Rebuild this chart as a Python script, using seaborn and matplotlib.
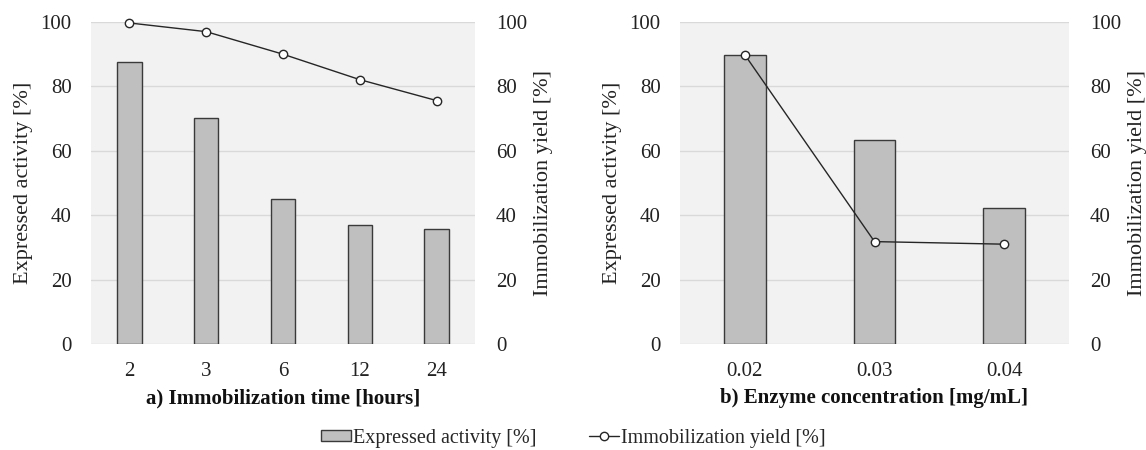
import matplotlib
matplotlib.use("Agg")
import matplotlib.pyplot as plt
import seaborn as sns
from matplotlib.patches import Patch
from matplotlib.lines import Line2D

# ---- data ----
time_cats = ["2", "3", "6", "12", "24"]
time_activity = [87.7, 70.1, 45.0, 37.1, 35.7]
time_yield = [99.7, 97.0, 90.0, 82.1, 75.6]

conc_cats = ["0.02", "0.03", "0.04"]
conc_activity = [89.6, 63.2, 42.1]
conc_yield = [89.8, 31.8, 31.0]

xlabels = ["a) Immobilization time [hours]", "b) Enzyme concentration [mg/mL]"]
left_label = "Expressed activity [%]"
right_label = "Immobilization yield [%]"
yticks = [0, 20, 40, 60, 80, 100]

sns.set_theme(style="white")
plt.rcParams["font.family"] = ["Liberation Serif", "DejaVu Serif"]

BAR = "#bfbfbf"
EDGE = "#3a3a3a"
LINE = "#262626"
BG = "#f2f2f2"
GRID = "#d9d9d9"
TXT = "#222222"
FS = 15
LFS = 16

W, H = 1146, 450
fig = plt.figure(figsize=(W / 100, H / 100), dpi=100)
positions = [[91 / W, 1 - 344 / H, 384 / W, 322 / H],
             [680 / W, 1 - 344 / H, 389 / W, 322 / H]]

panels = [(time_cats, time_activity, time_yield), (conc_cats, conc_activity, conc_yield)]

for i, (cats, act, yld) in enumerate(panels):
    ax = fig.add_axes(positions[i])
    ax.set_facecolor(BG)
    sns.barplot(x=cats, y=act, ax=ax, color=BAR, width=0.32,
                edgecolor=EDGE, linewidth=1.0, saturation=1)
    ax.set_ylim(0, 100)
    ax.set_xlim(-0.5, len(cats) - 0.5)
    ax.set_yticks(yticks)
    ax.yaxis.grid(True, color=GRID, linewidth=1.0)
    ax.set_axisbelow(True)
    for s in ax.spines.values():
        s.set_visible(False)
    ax.tick_params(axis="both", length=0, labelsize=FS, colors=TXT)
    ax.tick_params(axis="y", pad=14)
    ax.tick_params(axis="x", pad=13)
    ax.set_ylabel(left_label, fontsize=LFS, color=TXT, labelpad=5)
    ax.set_xlabel(xlabels[i], fontsize=FS, fontweight="bold", color="#111111", labelpad=5)

    ax2 = ax.twinx()
    sns.pointplot(x=cats, y=yld, ax=ax2, color=LINE, markers="o", linestyles="-",
                  linewidth=1.0, markersize=6, markerfacecolor="white",
                  markeredgecolor=LINE, markeredgewidth=1.0)
    for ln in ax2.lines:
        ln.set_clip_on(False)
    ax2.set_ylim(0, 100)
    ax2.set_xlim(-0.5, len(cats) - 0.5)
    ax2.set_yticks(yticks)
    ax2.grid(False)
    for s in ax2.spines.values():
        s.set_visible(False)
    ax2.tick_params(axis="y", length=0, labelsize=FS, colors=TXT, pad=15)
    ax2.set_ylabel(right_label, fontsize=LFS, color=TXT, labelpad=5)
    ax2.set_xlabel("")

handles = [Patch(facecolor=BAR, edgecolor=EDGE, linewidth=1.0),
           Line2D([0], [0], color=LINE, linewidth=1.0, marker="o", markersize=6,
                  markerfacecolor="white", markeredgecolor=LINE)]
fig.legend(handles, ["Expressed activity [%]", "Immobilization yield [%]"],
           loc="center", bbox_to_anchor=(0.5, 1 - 438 / H), ncol=2, frameon=False,
           fontsize=14.5, handlelength=1.5, handleheight=0.5, handletextpad=0.1,
           columnspacing=2.6)

fig.savefig("out.png", dpi=100)
